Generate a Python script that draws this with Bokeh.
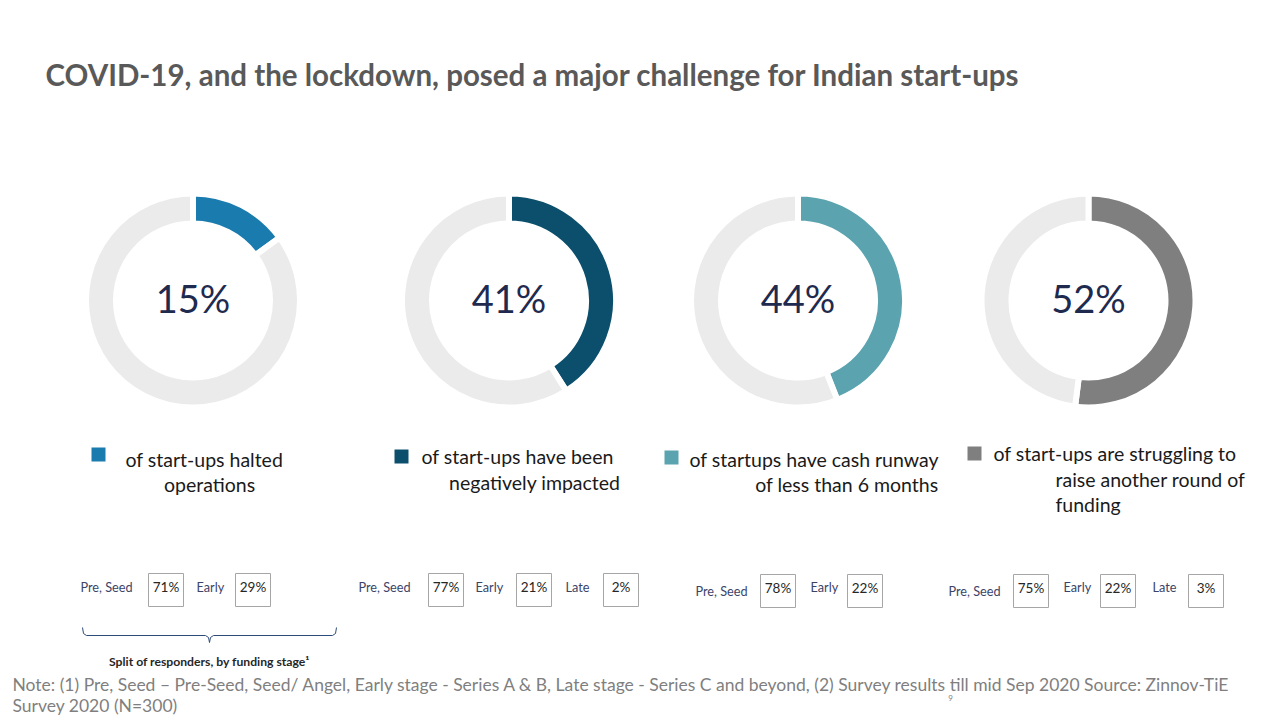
from bokeh.plotting import figure
from bokeh.models import Range1d, ColumnDataSource
from bokeh.core.properties import value
from bokeh.embed import file_html
from bokeh.resources import INLINE

# ---------------- data ----------------
title = "COVID-19, and the lockdown, posed a major challenge for Indian start-ups"
percent = [15, 41, 44, 52]
series_colors = ["#1A7BAE", "#0B4F6C", "#5BA3AF", "#7F7F7F"]
descriptions = [
    ["of start-ups halted", "operations"],
    ["of start-ups have been", "negatively  impacted"],
    ["of startups have cash runway", "of less than 6 months"],
    ["of start-ups are struggling to", "raise another round  of", "funding"],
]
stage_names = [["Pre, Seed", "Early"], ["Pre, Seed", "Early", "Late"],
               ["Pre, Seed", "Early"], ["Pre, Seed", "Early", "Late"]]
stage_shares = [[71, 29], [77, 21, 2], [78, 22], [75, 22, 3]]
brace_label = "Split of responders, by funding stage\u00b9"
note_lines = [
    "Note: (1) Pre, Seed \u2013 Pre-Seed, Seed/ Angel, Early stage - Series A & B, Late stage - Series C and beyond, (2) Survey results till mid Sep 2020  Source: Zinnov-TiE",
    "Survey 2020 (N=300)",
]
page_number = "9"

# ---------------- layout (screen pixels) ----------------
W, H = 1280, 720
FONT = "Lato"
def X(sx): return sx
def Y(sy): return H - sy

donut_cx = [192.5, 508.5, 797.5, 1088]
donut_cy = 300
R_OUT, R_IN = 104, 80
ring_gray = "#EBEBEB"
navy = "#1F2A4F"

legend_square = [(98, 454), (401, 456), (671, 457), (974, 453)]
legend_lines = [
    [("left", 125, 459), ("center", 209, 484)],
    [("left", 421, 456), ("right", 625, 482)],
    [("left", 689, 459), ("right", 938, 484)],
    [("left", 993, 453), ("left", 1055, 479), ("left", 1055, 504)],
]
stage_label_x = [[80, 196], [358, 475, 565], [695, 810], [948, 1063, 1152]]
stage_label_y = [[586, 586], [586, 586, 586], [590, 586], [590, 586, 586]]
stage_box_x = [[148, 235], [428, 516, 603], [760, 847], [1013, 1100, 1188]]
box_top = [573, 573, 574, 574]
BOX_W, BOX_H = 35, 33

p = figure(width=W, height=H, x_range=Range1d(0, W), y_range=Range1d(0, H),
           output_backend="svg", toolbar_location=None, min_border=0)
p.axis.visible = False
p.grid.visible = False
p.outline_line_color = None
p.background_fill_color = "white"

# title
p.text(x=[X(45)], y=[Y(74)], text=[title], text_font=value(FONT), text_font_style="bold",
       text_font_size="29.5px", text_color="#595959", text_baseline="middle", text_align="left")

# donuts
gap = 6
for i, v in enumerate(percent):
    cx, cy = X(donut_cx[i]), Y(donut_cy)
    a = 90 - v * 3.6
    src = ColumnDataSource(dict(
        x=[cx, cx], y=[cy, cy],
        start=[a, 90], end=[90, a],
        color=[series_colors[i], ring_gray]))
    p.annular_wedge(x="x", y="y", inner_radius=R_IN - gap / 2, outer_radius=R_OUT + gap / 2,
                    start_angle="start", end_angle="end", start_angle_units="deg",
                    end_angle_units="deg", direction="anticlock", fill_color="color",
                    line_color="white", line_width=gap, source=src)
    p.text(x=[cx], y=[cy + 3], text=[f"{v}%"], text_font=value(FONT), text_font_size="38px",
           text_color=navy, text_align="center", text_baseline="middle")

# legend squares and descriptions
for i, lines in enumerate(descriptions):
    sx, sy = legend_square[i]
    p.scatter(x=[X(sx)], y=[Y(sy)], marker="square", size=14, fill_color=series_colors[i],
              line_color=None)
    for j, txt in enumerate(lines):
        align, lx, ly = legend_lines[i][j]
        p.text(x=[X(lx)], y=[Y(ly)], text=[txt], text_font=value(FONT), text_font_size="19.5px",
               text_color="#1A1A1A", text_align=align, text_baseline="middle")

# stage split boxes
for g, names in enumerate(stage_names):
    for k, name in enumerate(names):
        p.text(x=[X(stage_label_x[g][k])], y=[Y(stage_label_y[g][k])], text=[name],
               text_font=value(FONT), text_font_size="12.7px", text_color="#3B4468",
               text_align="left", text_baseline="middle")
        bx = stage_box_x[g][k]
        p.rect(x=[X(bx + BOX_W / 2)], y=[Y(box_top[g] + BOX_H / 2)], width=BOX_W, height=BOX_H,
               fill_color=None, line_color="#A6A6A6", line_width=1)
        p.text(x=[X(bx + BOX_W / 2)], y=[Y(box_top[g] + 13)], text=[f"{stage_shares[g][k]}%"],
               text_font=value(FONT), text_font_size="13.5px", text_color="#262626",
               text_align="center", text_baseline="middle")

# brace
bx0, bx1, bmid, by = 82, 336, 209, 635
brace_xs = [[X(bx0), X(bx0 + 1), X(bx0 + 4), X(bmid - 4), X(bmid - 1), X(bmid)],
            [X(bmid), X(bmid + 1), X(bmid + 4), X(bx1 - 4), X(bx1 - 1), X(bx1)]]
brace_ys = [[Y(627), Y(633), Y(by), Y(by), Y(637), Y(642)],
            [Y(642), Y(637), Y(by), Y(by), Y(633), Y(627)]]
p.multi_line(xs=brace_xs, ys=brace_ys, line_color="#2E4C7A", line_width=1)
p.text(x=[X(bmid)], y=[Y(661)], text=[brace_label], text_font=value(FONT),
       text_font_style="bold", text_font_size="12.2px", text_color="#262626",
       text_align="center", text_baseline="middle")

# note
for j, line in enumerate(note_lines):
    p.text(x=[X(12)], y=[Y(684 + 21 * j)], text=[line], text_font=value(FONT),
           text_font_size="17.5px", text_color="#7F7F7F", text_align="left",
           text_baseline="middle")
p.text(x=[X(950)], y=[Y(697)], text=[page_number], text_font=value(FONT),
       text_font_size="8px", text_color="#7F7F7F", text_align="center", text_baseline="middle")

open("out.html", "w").write(file_html(p, INLINE))
